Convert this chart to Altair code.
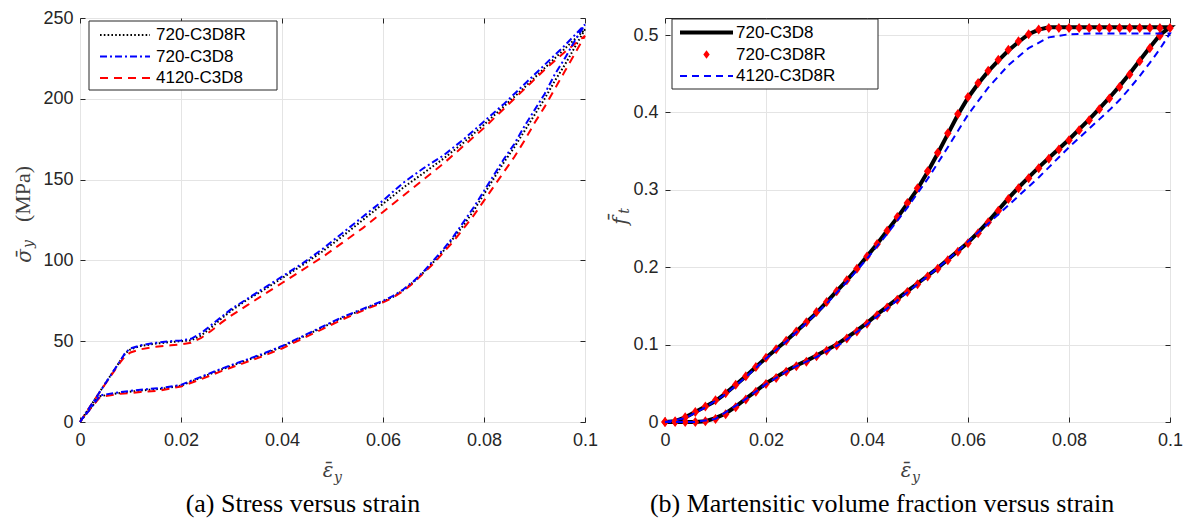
import altair as alt
import pandas as pd

# ---------------- (a) Stress versus strain ----------------
a_load_strain = [0, 0.002, 0.004, 0.006, 0.008, 0.009, 0.010, 0.012, 0.015, 0.018,
                 0.020, 0.022, 0.024, 0.026, 0.028, 0.030, 0.033, 0.036, 0.040, 0.044,
                 0.048, 0.052, 0.056, 0.060, 0.064, 0.068, 0.072, 0.076, 0.080, 0.084,
                 0.088, 0.092, 0.096, 0.100]
a_load_720R = [0, 9.5, 19, 28.5, 38, 42.5, 45, 47, 48.5, 49.5,
               50, 50.5, 53.5, 58.5, 64, 69, 75.5, 81, 89, 97,
               105.5, 115, 125, 135, 145, 154, 163, 173, 184, 195.5,
               207, 219, 231, 243]
a_load_720 = [0, 9.5, 19, 28.5, 38, 43, 45.5, 47.5, 49, 50,
              50.5, 51.5, 55, 60, 65, 70, 76, 82, 90, 98,
              107, 117, 127, 137, 148, 157, 165, 175, 186, 197,
              209, 221, 233, 246]
a_load_4120 = [0, 9.5, 19, 28, 37, 41, 43, 45, 46.5, 47.5,
               48, 49, 52, 56.5, 61.5, 66, 72, 78, 86, 94,
               102, 111, 120, 130, 140, 150, 160, 171, 182, 194,
               206, 218, 229, 239]

a_unload_strain = [0.100, 0.098, 0.096, 0.094, 0.092, 0.090, 0.088, 0.086, 0.084, 0.082,
                   0.080, 0.078, 0.076, 0.074, 0.072, 0.070, 0.068, 0.066, 0.064, 0.062,
                   0.060, 0.056, 0.052, 0.048, 0.044, 0.040, 0.036, 0.032, 0.028, 0.024,
                   0.020, 0.016, 0.012, 0.008, 0.004, 0.002, 0]
a_unload_720R = [243, 232, 221, 211, 200, 190, 180, 170, 161, 151,
                 141, 131, 122, 114, 106, 99, 92.5, 86.5, 81.5, 77.5,
                 74.5, 69.5, 64.5, 58.5, 52.5, 46.5, 41.5, 37, 32.5, 27.5,
                 22.5, 20.5, 19.5, 18, 16, 8, 0]
a_unload_720 = [246, 236, 225, 215, 203, 193, 183, 172, 163, 153,
                143, 133, 124, 115, 107, 100, 93, 87, 82, 78,
                75, 70, 65, 59, 53, 47, 42, 37.5, 33, 28,
                23, 21, 20, 18.5, 16.5, 8, 0]
a_unload_4120 = [239, 228, 217, 206, 195, 185, 174, 164, 155, 146,
                 137, 128, 120, 112, 105, 98, 92, 86, 81, 77,
                 74, 69, 63.5, 57.5, 51.5, 45.5, 40.5, 36, 31.5, 26.5,
                 22, 19.5, 18.5, 17.5, 15.5, 8, 0]

# ---------------- (b) Martensitic volume fraction ----------------
b_load_strain = [0.000, 0.002, 0.004, 0.006, 0.008, 0.010, 0.012, 0.014, 0.016, 0.018,
                 0.020, 0.022, 0.024, 0.026, 0.028, 0.030, 0.032, 0.034, 0.036, 0.038,
                 0.040, 0.042, 0.044, 0.046, 0.048, 0.050, 0.052, 0.054, 0.056, 0.058,
                 0.060, 0.062, 0.064, 0.066, 0.068, 0.070, 0.072, 0.074, 0.076, 0.078,
                 0.080, 0.082, 0.084, 0.086, 0.088, 0.090, 0.092, 0.094, 0.096, 0.098,
                 0.100]
b_load_720 = [0.000, 0.001, 0.006, 0.013, 0.020, 0.027, 0.037, 0.048, 0.059, 0.071,
              0.083, 0.094, 0.105, 0.117, 0.129, 0.141, 0.155, 0.169, 0.183, 0.198,
              0.214, 0.230, 0.247, 0.264, 0.282, 0.301, 0.323, 0.347, 0.372, 0.397,
              0.419, 0.437, 0.453, 0.467, 0.480, 0.491, 0.501, 0.507, 0.510, 0.510,
              0.510, 0.510, 0.510, 0.510, 0.510, 0.510, 0.510, 0.510, 0.510, 0.510,
              0.510]
b_unload_strain = [0.100, 0.098, 0.096, 0.094, 0.092, 0.090, 0.088, 0.086, 0.084, 0.082,
                   0.080, 0.078, 0.076, 0.074, 0.072, 0.070, 0.068, 0.066, 0.064, 0.062,
                   0.060, 0.058, 0.056, 0.054, 0.052, 0.050, 0.048, 0.046, 0.044, 0.042,
                   0.040, 0.038, 0.036, 0.034, 0.032, 0.030, 0.028, 0.026, 0.024, 0.022,
                   0.020, 0.018, 0.016, 0.014, 0.012, 0.010, 0.008, 0.006, 0.004, 0.002,
                   0.000]
b_unload_720 = [0.510, 0.500, 0.484, 0.467, 0.450, 0.434, 0.419, 0.405, 0.391, 0.378,
                0.365, 0.353, 0.341, 0.329, 0.316, 0.303, 0.289, 0.274, 0.259, 0.245,
                0.232, 0.221, 0.210, 0.199, 0.189, 0.179, 0.169, 0.159, 0.149, 0.139,
                0.128, 0.118, 0.109, 0.100, 0.093, 0.086, 0.079, 0.073, 0.066, 0.058,
                0.050, 0.040, 0.030, 0.020, 0.011, 0.005, 0.001, 0.000, 0.000, 0.000,
                0.000]
# 720-C3D8R markers sit on the 720-C3D8 curve
b_load_720R = [0.000, 0.001, 0.006, 0.013, 0.020, 0.028, 0.037, 0.048, 0.059, 0.071,
               0.083, 0.094, 0.105, 0.117, 0.129, 0.142, 0.155, 0.169, 0.183, 0.198,
               0.214, 0.230, 0.247, 0.265, 0.283, 0.302, 0.324, 0.348, 0.373, 0.398,
               0.420, 0.438, 0.454, 0.468, 0.481, 0.492, 0.501, 0.507, 0.509, 0.509,
               0.509, 0.509, 0.509, 0.509, 0.509, 0.509, 0.509, 0.509, 0.509, 0.509,
               0.509]
b_unload_720R = [0.509, 0.499, 0.483, 0.466, 0.449, 0.433, 0.418, 0.404, 0.390, 0.377,
                 0.364, 0.352, 0.340, 0.328, 0.315, 0.302, 0.288, 0.273, 0.258, 0.244,
                 0.231, 0.220, 0.209, 0.198, 0.188, 0.178, 0.168, 0.158, 0.148, 0.138,
                 0.127, 0.117, 0.108, 0.099, 0.092, 0.085, 0.078, 0.072, 0.065, 0.057,
                 0.049, 0.039, 0.029, 0.019, 0.010, 0.004, 0.001, 0.000, 0.000, 0.000,
                 0.000]
b_load_4120R_strain = [0, 0.004, 0.008, 0.012, 0.016, 0.020, 0.024, 0.028, 0.032, 0.036,
                       0.040, 0.044, 0.048, 0.052, 0.056, 0.060, 0.064, 0.068, 0.072, 0.076,
                       0.080, 0.085, 0.090, 0.095, 0.100]
b_load_4120R = [0, 0.005, 0.019, 0.036, 0.058, 0.082, 0.104, 0.128, 0.153, 0.181,
                0.211, 0.243, 0.277, 0.314, 0.355, 0.397, 0.432, 0.461, 0.483, 0.497,
                0.501, 0.502, 0.502, 0.502, 0.502]
b_unload_4120R_strain = [0.100, 0.098, 0.096, 0.094, 0.092, 0.090, 0.088, 0.086, 0.084, 0.082,
                         0.080, 0.078, 0.076, 0.074, 0.072, 0.070, 0.066, 0.062, 0.058, 0.054,
                         0.050, 0.045, 0.040, 0.035, 0.030, 0.025, 0.020, 0.015, 0.010, 0.006,
                         0.003, 0]
b_unload_4120R = [0.502, 0.482, 0.464, 0.447, 0.431, 0.416, 0.403, 0.391, 0.379, 0.367,
                  0.355, 0.342, 0.329, 0.316, 0.304, 0.292, 0.268, 0.245, 0.221, 0.199,
                  0.178, 0.152, 0.126, 0.102, 0.084, 0.069, 0.049, 0.025, 0.004, 0,
                  0, 0]

x_ticks = [0, 0.02, 0.04, 0.06, 0.08, 0.1]
a_y_ticks = [0, 50, 100, 150, 200, 250]
b_y_ticks = [0, 0.1, 0.2, 0.3, 0.4, 0.5]

W, H = 505, 404
AX = "#262626"
GRID = "#e4e4e4"
SANS = "Liberation Sans"
SERIF = "Liberation Serif"
MATH = "DejaVu Serif"
TCOL = "#404040"
DIAMOND = "M0,-1L0.75,0L0,1L-0.75,0Z"


def path_df(lx, ly, ux, uy):
    xs = list(lx) + list(ux[1:])
    ys = list(ly) + list(uy[1:])
    return pd.DataFrame({"strain": xs, "value": ys, "i": list(range(len(xs)))})


def axis_main(orient, values, fmt, pad):
    return alt.Axis(orient=orient, values=values, format=fmt, title=None, grid=True,
                    gridColor=GRID, gridWidth=1, domain=False, ticks=True, tickSize=5,
                    tickColor=AX, tickWidth=1, offset=-5, labelFont=SANS, labelFontSize=18,
                    labelColor=AX, labelPadding=pad, labelFlush=False, labelOverlap=False)


def axis_mirror(orient, values):
    return alt.Axis(orient=orient, values=values, title=None, grid=False, labels=False,
                    domain=False, ticks=True, tickSize=5, tickColor=AX, tickWidth=1, offset=-5)


one = pd.DataFrame({"k": [0]})


def txt(text, x, y, size, font=SERIF, style="normal", angle=0, color="black", align="center"):
    return alt.Chart(one).mark_text(text=text, font=font, fontSize=size, fontStyle=style,
                                    angle=angle, color=color, align=align,
                                    baseline="middle").encode(x=alt.value(x), y=alt.value(y))


def box(x0, x1, y0, y1):
    return alt.Chart(one).mark_rect(fill="white", stroke=AX, strokeWidth=1).encode(
        x=alt.value(x0), x2=alt.value(x1), y=alt.value(y0), y2=alt.value(y1))


def sample(x0, x1, y, color, dash, width):
    kw = dict(color=color, strokeWidth=width)
    if dash:
        kw["strokeDash"] = dash
    return alt.Chart(one).mark_rule(**kw).encode(x=alt.value(x0), x2=alt.value(x1), y=alt.value(y))


def panel(series, ydomain, yticks, yfmt, legend_layers, title_layers):
    xs = alt.Scale(domain=[0, 0.1], nice=False, zero=False)
    ys = alt.Scale(domain=ydomain, nice=False, zero=False)
    layers = []
    first = series[0]
    mirror = alt.Chart(first[0]).mark_line(opacity=0).encode(
        x=alt.X("strain:Q", scale=xs, axis=axis_mirror("top", x_ticks)),
        y=alt.Y("value:Q", scale=ys, axis=axis_mirror("right", yticks)),
        order="i:Q")
    layers.append(mirror)
    for k, (df, kind, style) in enumerate(series):
        if k == 0:
            xa = axis_main("bottom", x_ticks, ".2~f", 9)
            ya = axis_main("left", yticks, yfmt, 7)
        else:
            xa = None
            ya = None
        enc = dict(x=alt.X("strain:Q", scale=xs, axis=xa),
                   y=alt.Y("value:Q", scale=ys, axis=ya))
        if kind == "line":
            m = alt.Chart(df).mark_line(**style).encode(order="i:Q", **enc)
        else:
            m = alt.Chart(df).mark_point(**style).encode(**enc)
        layers.append(m)
    layers += legend_layers + title_layers
    return alt.layer(*layers).resolve_axis(x="independent", y="independent").properties(
        width=W, height=H)


# ---- panel (a)
a_720R = path_df(a_load_strain, a_load_720R, a_unload_strain, a_unload_720R)
a_720 = path_df(a_load_strain, a_load_720, a_unload_strain, a_unload_720)
a_4120 = path_df(a_load_strain, a_load_4120, a_unload_strain, a_unload_4120)

DOT = [1.6, 2.2]
DASHDOT = [7, 3, 2, 3]
DASH = [8, 6]

a_series = [
    (a_720R, "line", dict(color="black", strokeWidth=2, strokeDash=DOT)),
    (a_4120, "line", dict(color="#ff0000", strokeWidth=2, strokeDash=DASH)),
    (a_720, "line", dict(color="#0000ff", strokeWidth=2, strokeDash=DASHDOT)),
]
a_legend = [
    box(9, 197, 3, 72),
    sample(20, 70, 17, "black", DOT, 2),
    txt("720-C3D8R", 76, 17, 17, font=SANS, align="left"),
    sample(20, 70, 38.5, "#0000ff", DASHDOT, 2),
    txt("720-C3D8", 76, 38.5, 17, font=SANS, align="left"),
    sample(20, 70, 60, "#ff0000", DASH, 2),
    txt("4120-C3D8", 76, 60, 17, font=SANS, align="left"),
]
a_titles = [
    txt("\u03b5\u0304", 248, 453, 20, font=MATH, style="italic", color=TCOL),
    txt("y", 258, 460, 14, font=MATH, style="italic", color=TCOL),
    txt("\u03c3\u0304", -55, 238, 20, font=MATH, style="italic", angle=270, color=TCOL),
    txt("y", -51, 226, 14, font=MATH, style="italic", angle=270, color=TCOL),
    txt("(MPa)", -57, 176, 22, angle=270, color=TCOL),
    txt("(a) Stress versus strain", 223, 486, 26),
]
left = panel(a_series, [0, 250], a_y_ticks, "d", a_legend, a_titles)

# ---- panel (b)
b_720 = path_df(b_load_strain, b_load_720, b_unload_strain, b_unload_720)
b_720R = path_df(b_load_strain, b_load_720R, b_unload_strain, b_unload_720R)
b_4120R = path_df(b_load_4120R_strain, b_load_4120R, b_unload_4120R_strain, b_unload_4120R)
BDASH = [7, 5]
b_series = [
    (b_720, "line", dict(color="black", strokeWidth=4)),
    (b_720R, "point", dict(shape=DIAMOND, filled=True, color="#ff0000", size=100, opacity=1)),
    (b_4120R, "line", dict(color="#0000ff", strokeWidth=2, strokeDash=BDASH)),
]
b_legend = [
    box(7, 213, 1, 71),
    sample(15, 68, 14.5, "black", None, 4),
    txt("720-C3D8", 71, 14.5, 17, font=SANS, align="left"),
    alt.Chart(one).mark_point(shape=DIAMOND, filled=True, color="#ff0000", size=72,
                              opacity=1).encode(x=alt.value(41.5), y=alt.value(36.5)),
    txt("720-C3D8R", 71, 36.5, 17, font=SANS, align="left"),
    sample(15, 68, 58, "#0000ff", BDASH, 2),
    txt("4120-C3D8R", 71, 58, 17, font=SANS, align="left"),
]
b_titles = [
    txt("\u03b5\u0304", 241, 453, 20, font=MATH, style="italic", color=TCOL),
    txt("y", 251, 460, 14, font=MATH, style="italic", color=TCOL),
    txt("f\u0304", -44, 203, 20, font=MATH, style="italic", angle=270, color=TCOL),
    txt("t", -40, 193, 14, font=MATH, style="italic", angle=270, color=TCOL),
    txt("(b) Martensitic volume fraction versus strain", 217, 486, 26),
]
right = panel(b_series, [0, 0.522], b_y_ticks, ".1~f", b_legend, b_titles)

chart = alt.hconcat(left, right, spacing=80, bounds="flush").configure_view(
    stroke=AX, strokeWidth=1).properties(padding={"left": 3, "top": 0, "right": 0, "bottom": 0})

chart.save("out.html", embed_options={"renderer": "svg", "actions": False})
